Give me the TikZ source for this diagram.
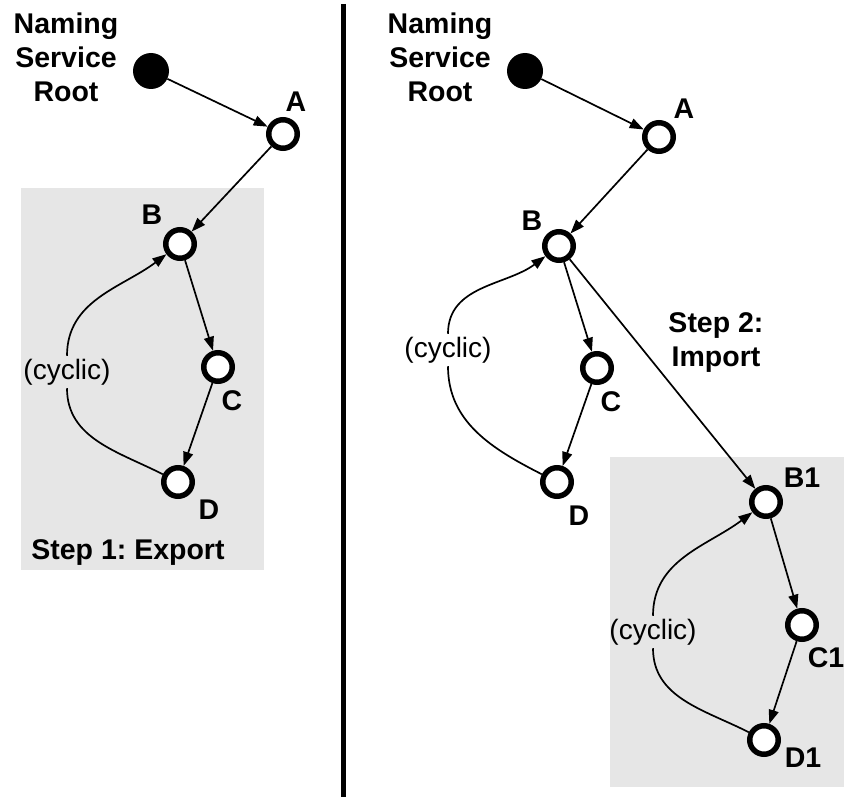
\documentclass[tikz,border=0pt]{standalone}
\usepackage{fontspec}
\setmainfont{Liberation Sans}
\usetikzlibrary{arrows.meta}
\frenchspacing

\definecolor{boxgray}{RGB}{230,230,230}

\begin{document}
\begin{tikzpicture}[
  x=1pt,y=-1pt,
  vertex/.style={circle,draw=black,line width=5.5pt,fill=white,minimum size=28.5pt,inner sep=0pt},
  rootdot/.style={circle,fill=black,minimum size=36pt,inner sep=0pt},
  lbl/.style={font=\fontsize{28.5}{34}\selectfont\bfseries,inner sep=0pt},
  note/.style={font=\fontsize{28}{34}\selectfont,inner sep=3pt},
  arc/.style={line width=1.7pt,-{Triangle[length=14pt,width=10pt]}},
  ]
  \useasboundingbox (0,0) rectangle (844,797);

  % shaded areas
  \fill[boxgray] (21,188) rectangle (264,570);
  \fill[boxgray] (610,457) rectangle (844,787);

  % divider
  \draw[line width=5pt] (343.5,4) -- (343.5,797);

  % left half: export
  \node[rootdot] (root_l) at (151,71) {};
  \node[vertex] (a_l) at (283,134) {};
  \node[vertex] (b_l) at (180,244) {};
  \node[vertex] (c_l) at (218,367) {};
  \node[vertex] (d_l) at (178,482) {};

  \node[lbl,align=center] (naming_l) at (66,57) {Naming\\Service\\Root};
  \node[lbl] (lbl_a_l) at (296,102) {A};
  \node[lbl] (lbl_b_l) at (152,215) {B};
  \node[lbl] (lbl_c_l) at (232,401) {C};
  \node[lbl] (lbl_d_l) at (209,510) {D};
  \node[note] (cyc_l) at (67,372) {(cyclic)};
  \node[lbl] (step_l) at (128,553) {Step 1: Export};

  % right half: import
  \node[rootdot] (root_r) at (525,71) {};
  \node[vertex] (a_r) at (659,137) {};
  \node[vertex] (b_r) at (559,246) {};
  \node[vertex] (c_r) at (597,368) {};
  \node[vertex] (d_r) at (557,482) {};
  \node[vertex] (b1) at (766,502) {};
  \node[vertex] (c1) at (802,625) {};
  \node[vertex] (d1) at (764,740) {};

  \node[lbl,align=center] (naming_r) at (440,57) {Naming\\Service\\Root};
  \node[lbl] (lbl_a_r) at (684,109) {A};
  \node[lbl] (lbl_b_r) at (532,221) {B};
  \node[lbl] (lbl_c_r) at (611,402) {C};
  \node[lbl] (lbl_d_r) at (579,516) {D};
  \node[lbl] (lbl_b1) at (802,478) {B1};
  \node[lbl] (lbl_c1) at (826,658) {C1};
  \node[lbl] (lbl_d1) at (803,758) {D1};
  \node[note] (cyc_r) at (448,350) {(cyclic)};
  \node[note] (cyc_1) at (653,632) {(cyclic)};
  \node[lbl,align=center] (step_r) at (716,343) {Step 2:\\Import};

  % links
  \foreach \s/\t in {root_l/a_l, a_l/b_l, b_l/c_l, c_l/d_l,
                     root_r/a_r, a_r/b_r, b_r/c_r, c_r/d_r,
                     b_r/b1, b1/c1, c1/d1}
    \draw[arc] (\s) -- (\t);

  % cycles back to the top
  \foreach \d/\c/\b in {d_l/cyc_l/b_l, d_r/cyc_r/b_r, d1/cyc_1/b1}
  {
    \draw[line width=1.7pt] (\d) to[out=153,in=270] (\c);
    \draw[arc] (\c) to[out=90,in=217] (\b);
  }

\end{tikzpicture}
\end{document}
